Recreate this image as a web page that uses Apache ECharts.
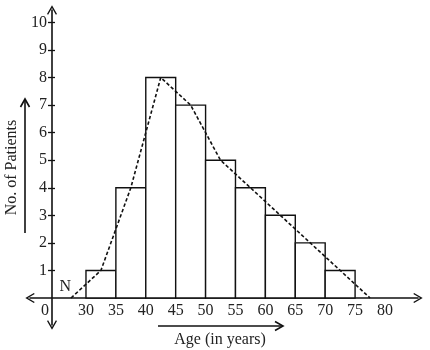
<!DOCTYPE html>
<html>
<head>
<meta charset="utf-8">
<script src="https://cdn.jsdelivr.net/npm/echarts@6/dist/echarts.min.js"></script>
<style>
  html, body { margin: 0; padding: 0; background: #fff; }
  #chart { width: 430px; height: 350px; }
</style>
</head>
<body>
<div id="chart"></div>
<script>
// Class intervals (age in years) and number of patients in each
const binStart = [30, 35, 40, 45, 50, 55, 60, 65, 70];
const binEnd   = [35, 40, 45, 50, 55, 60, 65, 70, 75];
const patients = [1, 4, 8, 7, 5, 4, 3, 2, 1];

// Frequency polygon through class marks, closed at both ends
const polygonAges   = [27.5, 32.5, 37.5, 42.5, 47.5, 52.5, 57.5, 62.5, 67.5, 72.5, 77.5];
const polygonCounts = [0, 1, 4, 8, 7, 5, 4, 3, 2, 1, 0];

// Tick labels
const xTickLabels = [30, 35, 40, 45, 50, 55, 60, 65, 70, 75, 80];
const yTickLabels = [1, 2, 3, 4, 5, 6, 7, 8, 9, 10];

// Broken x axis: the vertical axis (origin "0") sits just left of the first class
const originAge = 24.32;

const INK = '#111';
const FONT = '"Liberation Serif", "DejaVu Serif", serif';

// Thin open chevron used as arrow heads
const chevron = 'path://M5 0 L10 8.6 L8.9 9.4 L5 2.6 L1.1 9.4 L0 8.6 Z';

const histData = binStart.map((s, i) => [s, binEnd[i], patients[i]]);
const polyData = polygonAges.map((a, i) => [a, polygonCounts[i]]);

const yAxisBase = {
  type: 'value',
  min: -0.98,
  max: 10.45,
  position: 'left',
  offset: -22,
  splitLine: { show: false }
};

const chart = echarts.init(document.getElementById('chart'));
chart.setOption({
  animation: false,
  backgroundColor: '#fff',
  textStyle: { fontFamily: FONT },
  grid: { left: 30, right: 12, top: 10, bottom: 25, containLabel: false, outerBoundsMode: 'none' },
  xAxis: {
    type: 'value',
    min: 20.64,
    max: 85.52,
    position: 'bottom',
    // lift the horizontal axis up to the zero count line
    offset: -27,
    name: 'Age (in years)',
    nameLocation: 'middle',
    nameGap: 34,
    nameTextStyle: { color: '#222', fontSize: 16, fontFamily: FONT, padding: [0, 8, 0, 0] },
    axisLine: {
      onZero: false,
      lineStyle: { color: INK, width: 1.6 },
      symbol: [chevron, chevron],
      symbolSize: [10, 10]
    },
    axisTick: { show: false },
    splitLine: { show: false },
    axisLabel: {
      customValues: [originAge].concat(xTickLabels),
      color: '#222',
      fontSize: 16,
      fontFamily: FONT,
      margin: 5,
      formatter: v => (v < 25 ? '{z|0}' : String(v)),
      rich: { z: { fontSize: 16, fontFamily: FONT, color: '#222', padding: [0, 14, 0, 0] } }
    }
  },
  yAxis: [
    Object.assign({}, yAxisBase, {
      name: 'No. of Patients',
      nameLocation: 'middle',
      nameGap: 28,
      nameTextStyle: { color: '#222', fontSize: 16, fontFamily: FONT },
      axisLine: {
        show: true,
        onZero: false,
        lineStyle: { color: INK, width: 1.6 },
        symbol: [chevron, chevron],
        symbolSize: [10, 10]
      },
      axisTick: { show: true, inside: false, length: 4, customValues: yTickLabels, lineStyle: { color: INK, width: 1.3 } },
      axisLabel: { customValues: yTickLabels, color: '#222', fontSize: 16, fontFamily: FONT, margin: 5 }
    }),
    Object.assign({}, yAxisBase, {
      axisLine: { show: false, onZero: false },
      axisTick: { show: true, inside: true, length: 3, customValues: yTickLabels, lineStyle: { color: INK, width: 1.3 } },
      axisLabel: { show: false }
    })
  ],
  graphic: [
    // arrow under the x-axis title
    {
      type: 'group',
      silent: true,
      children: [
        { type: 'line', shape: { x1: 158, y1: 326, x2: 282, y2: 326 }, style: { stroke: INK, lineWidth: 1.6 } },
        { type: 'polyline', shape: { points: [[275, 321.5], [283, 326], [275, 330.5]] }, style: { stroke: INK, lineWidth: 1.6, fill: null } }
      ]
    },
    // arrow beside the y-axis title
    {
      type: 'group',
      silent: true,
      children: [
        { type: 'line', shape: { x1: 25, y1: 233, x2: 25, y2: 100 }, style: { stroke: INK, lineWidth: 1.6 } },
        { type: 'polyline', shape: { points: [[20.5, 107], [25, 99], [29.5, 107]] }, style: { stroke: INK, lineWidth: 1.6, fill: null } }
      ]
    }
  ],
  series: [
    {
      type: 'custom',
      name: 'Histogram',
      yAxisIndex: 0,
      data: histData,
      z: 2,
      renderItem: (params, api) => {
        const topLeft = api.coord([api.value(0), api.value(2)]);
        const bottomRight = api.coord([api.value(1), 0]);
        return {
          type: 'rect',
          shape: {
            x: topLeft[0],
            y: topLeft[1],
            width: bottomRight[0] - topLeft[0],
            height: bottomRight[1] - topLeft[1]
          },
          style: { fill: '#fff', stroke: INK, lineWidth: 1.4 }
        };
      }
    },
    {
      type: 'line',
      name: 'Frequency polygon',
      yAxisIndex: 0,
      data: polyData,
      z: 3,
      showSymbol: false,
      symbol: 'none',
      lineStyle: { color: INK, width: 1.6, type: [3.5, 2.2] },
      markPoint: {
        symbol: 'circle',
        symbolSize: 0,
        data: [{ coord: [polygonAges[0], polygonCounts[0]], name: 'N' }],
        label: {
          show: true,
          formatter: 'N',
          color: '#222',
          fontSize: 16,
          fontFamily: FONT,
          position: 'left',
          offset: [5, -11]
        }
      }
    }
  ]
});
</script>
</body>
</html>
